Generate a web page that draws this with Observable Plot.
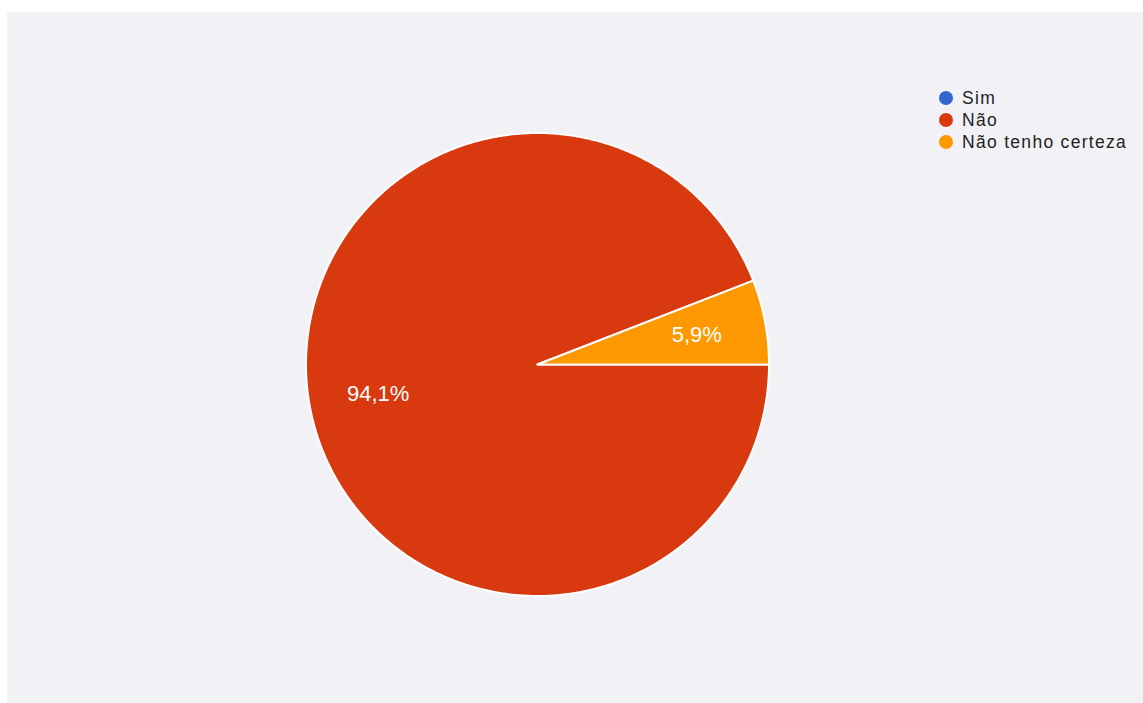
<!DOCTYPE html>
<html>
<head>
<meta charset="utf-8">
<script src="https://cdn.jsdelivr.net/npm/d3@7"></script>
<script src="https://cdn.jsdelivr.net/npm/@observablehq/plot@0.6"></script>
<style>
  html, body { margin: 0; padding: 0; background: #ffffff; }
  #frame { position: absolute; left: 7px; top: 12px; width: 1136px; height: 691px; background: #f2f1f6; overflow: hidden; }
  #legend { position: absolute; left: 932px; top: 75px; font-family: "Liberation Sans", Arial, sans-serif; font-size: 17.5px; letter-spacing: 1.3px; color: #222; }
  .row { display: flex; align-items: center; height: 22px; }
  .dot { width: 14px; height: 14px; border-radius: 50%; margin-right: 9px; }
</style>
</head>
<body>
<div id="frame"><div id="chart"></div><div id="legend"></div></div>
<script>
const categories = ["Sim", "Não", "Não tenho certeza"];
const values = [0, 94.1, 5.9];
const labels = ["0%", "94,1%", "5,9%"];
const colors = ["#3366cc", "#d8390f", "#fd9800"];

const W = 1136, H = 691, R = 231.5, cx = 530, cy = 352;

const data = categories.map((c, i) => ({category: c, value: values[i], label: labels[i]}));
const arcs = d3.pie().sort(null).value(d => d.value).startAngle(Math.PI / 2).endAngle(Math.PI / 2 + 2 * Math.PI)(data);

const pts = [];
const labelPts = [];
for (const a of arcs) {
  const key = a.data.category;
  pts.push({key, x: 0, y: 0});
  const n = Math.max(2, Math.ceil((a.endAngle - a.startAngle) / 0.01));
  for (let k = 0; k <= n; k++) {
    const t = a.startAngle + (a.endAngle - a.startAngle) * k / n;
    pts.push({key, x: Math.sin(t), y: Math.cos(t)});
  }
  pts.push({key, x: 0, y: 0});
  if (a.data.value > 0) {
    const m = (a.startAngle + a.endAngle) / 2;
    labelPts.push({key, label: a.data.label, x: 0.7 * Math.sin(m), y: 0.7 * Math.cos(m)});
  }
}

const chart = Plot.plot({
  width: W, height: H,
  margin: 0,
  style: {background: "transparent"},
  x: {domain: [-cx / R, (W - cx) / R], range: [0, W], axis: null},
  y: {domain: [-(H - cy) / R, cy / R], range: [H, 0], axis: null},
  color: {domain: categories, range: colors},
  marks: [
    Plot.line(pts, {x: "x", y: "y", z: "key", fill: "key", stroke: "white", strokeWidth: 2, strokeLinejoin: "round", curve: "linear"}),
    Plot.text(labelPts, {x: "x", y: "y", text: "label", fill: "white", fontSize: 22, fontFamily: "Liberation Sans, Arial, sans-serif", letterSpacing: 0.8})
  ]
});
document.getElementById("chart").appendChild(chart);

const legend = document.getElementById("legend");
categories.forEach((c, i) => {
  const row = document.createElement("div");
  row.className = "row";
  const dot = document.createElement("span");
  dot.className = "dot";
  dot.style.background = colors[i];
  const txt = document.createElement("span");
  txt.textContent = c;
  row.appendChild(dot); row.appendChild(txt);
  legend.appendChild(row);
});
</script>
</body>
</html>
